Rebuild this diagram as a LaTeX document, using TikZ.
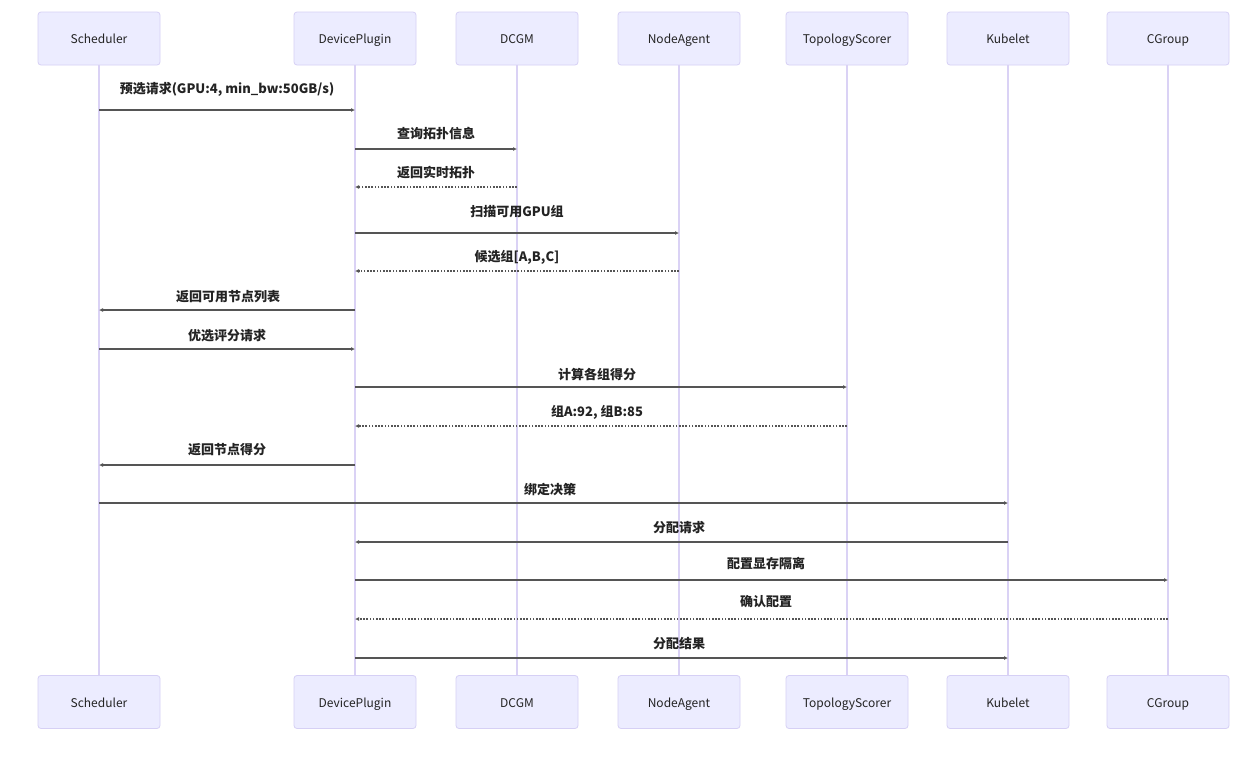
\documentclass[tikz,border=0pt]{standalone}
\usepackage{fontspec}
\setmainfont{Noto Sans CJK SC}
\usetikzlibrary{arrows.meta}
\definecolor{boxfill}{RGB}{236,236,255}
\definecolor{boxline}{RGB}{214,208,245}
\definecolor{lifeln}{RGB}{218,210,245}
\definecolor{msgline}{RGB}{85,85,85}
\definecolor{txt}{RGB}{35,35,35}
\begin{document}
\begin{tikzpicture}[x=1pt,y=-1pt,
  actor/.style={draw=boxline, fill=boxfill, rounded corners=3pt, line width=0.8pt,
    minimum width=122pt, minimum height=53pt, inner sep=0pt,
    text height=12pt, text depth=2pt,
    font=\fontsize{12}{14}\selectfont, text=txt},
  life/.style={draw=lifeln, line width=1.1pt},
  msg/.style={draw=msgline, line width=1.3pt, -{Latex[length=4pt,width=4pt]}},
  reply/.style={msg, dash pattern=on 1.6pt off 1.6pt},
  lbl/.style={font=\fontsize{13}{15}\selectfont\bfseries, text=txt, inner sep=1pt}]
\fill[white] (0,0) rectangle (1241,764);
\useasboundingbox (0,0) rectangle (1241,764);
% participants (top)
\node[actor] (schT) at (99,38.5) {Scheduler};
\node[actor] (dpT) at (355,38.5) {DevicePlugin};
\node[actor] (dcT) at (517,38.5) {DCGM};
\node[actor] (naT) at (679,38.5) {NodeAgent};
\node[actor] (tsT) at (847,38.5) {TopologyScorer};
\node[actor] (kbT) at (1008,38.5) {Kubelet};
\node[actor] (cgT) at (1168,38.5) {CGroup};
% participants (bottom)
\node[actor] (schB) at (99,702) {Scheduler};
\node[actor] (dpB) at (355,702) {DevicePlugin};
\node[actor] (dcB) at (517,702) {DCGM};
\node[actor] (naB) at (679,702) {NodeAgent};
\node[actor] (tsB) at (847,702) {TopologyScorer};
\node[actor] (kbB) at (1008,702) {Kubelet};
\node[actor] (cgB) at (1168,702) {CGroup};
% lifelines
\foreach \p in {sch,dp,dc,na,ts,kb,cg}{\draw[life] (\p T.south) -- (\p B.north);}
% messages
\draw[msg] (schT |- 0,110) -- (dpT |- 0,110);
\node[lbl] (m1) at (227,89) {预选请求(GPU:4, min\_bw:50GB/s)};
\draw[msg] (dpT |- 0,149) -- (dcT |- 0,149);
\node[lbl] (m2) at (436,134) {查询拓扑信息};
\draw[reply] (dcT |- 0,187) -- (dpT |- 0,187);
\node[lbl] (m3) at (436,173) {返回实时拓扑};
\draw[msg] (dpT |- 0,233) -- (naT |- 0,233);
\node[lbl] (m4) at (517,212) {扫描可用GPU组};
\draw[reply] (naT |- 0,271) -- (dpT |- 0,271);
\node[lbl] (m5) at (517,257) {候选组[A,B,C]};
\draw[msg] (dpT |- 0,310) -- (schT |- 0,310);
\node[lbl] (m6) at (228,297) {返回可用节点列表};
\draw[msg] (schT |- 0,349) -- (dpT |- 0,349);
\node[lbl] (m7) at (227,336) {优选评分请求};
\draw[msg] (dpT |- 0,387) -- (tsT |- 0,387);
\node[lbl] (m8) at (597,374) {计算各组得分};
\draw[reply] (tsT |- 0,426) -- (dpT |- 0,426);
\node[lbl] (m9) at (597,412) {组A:92, 组B:85};
\draw[msg] (dpT |- 0,465) -- (schT |- 0,465);
\node[lbl] (m10) at (227,450) {返回节点得分};
\draw[msg] (schT |- 0,503) -- (kbT |- 0,503);
\node[lbl] (m11) at (550,489) {绑定决策};
\draw[msg] (kbT |- 0,542) -- (dpT |- 0,542);
\node[lbl] (m12) at (679,528) {分配请求};
\draw[msg] (dpT |- 0,580) -- (cgT |- 0,580);
\node[lbl] (m13) at (766,563) {配置显存隔离};
\draw[reply] (cgT |- 0,619) -- (dpT |- 0,619);
\node[lbl] (m14) at (766,602) {确认配置};
\draw[msg] (dpT |- 0,658) -- (kbT |- 0,658);
\node[lbl] (m15) at (679,644) {分配结果};
\end{tikzpicture}
\end{document}
